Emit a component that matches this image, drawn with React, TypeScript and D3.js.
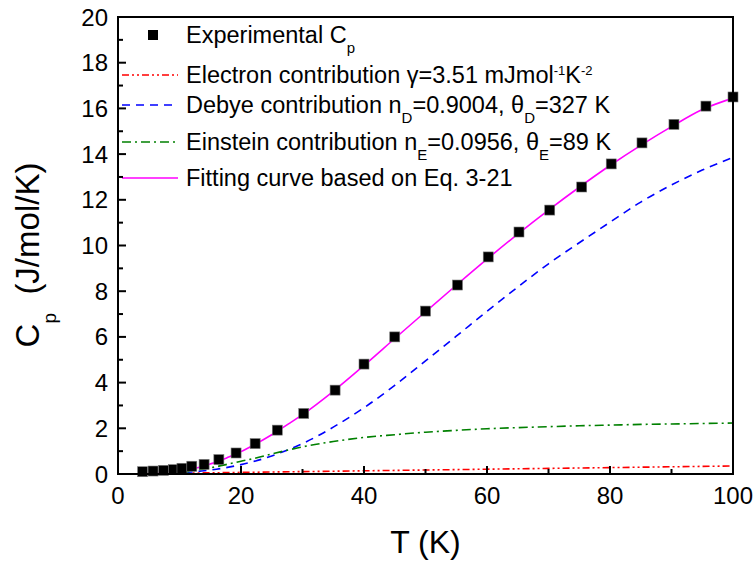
import React from "react";
import * as d3 from "d3";

const expT = [4, 5.7, 7.4, 9, 10.4, 12, 14, 16.4, 19.2, 22.3, 25.9, 30.2, 35.3, 40, 45, 50, 55.2, 60.2, 65.2, 70.2, 75.4, 80.2, 85.2, 90.4, 95.6, 100];
const expCp = [0.1, 0.13, 0.16, 0.19, 0.25, 0.34, 0.42, 0.63, 0.92, 1.33, 1.92, 2.65, 3.67, 4.81, 6.0, 7.13, 8.27, 9.5, 10.59, 11.55, 12.56, 13.57, 14.49, 15.3, 16.1, 16.5];

const curveT = [4, 6, 8, 10, 12, 14, 16, 18, 20, 22, 25, 28, 30, 35, 40, 45, 50, 55, 60, 65, 70, 75, 80, 85, 90, 95, 100];
const fitCp = [0.01, 0.03, 0.07, 0.13, 0.22, 0.36, 0.52, 0.74, 0.98, 1.26, 1.72, 2.24, 2.6, 3.62, 4.75, 5.93, 7.1, 8.26, 9.4, 10.5, 11.55, 12.55, 13.5, 14.38, 15.2, 15.95, 16.45];
const debyeCp = [0.0, 0.01, 0.02, 0.05, 0.09, 0.14, 0.21, 0.3, 0.41, 0.54, 0.79, 1.1, 1.33, 2.05, 2.9, 3.88, 4.95, 6.03, 7.12, 8.18, 9.2, 10.12, 11.02, 11.9, 12.65, 13.3, 13.85];
const einsteinCp = [0.0, 0.003, 0.02, 0.06, 0.13, 0.22, 0.32, 0.44, 0.56, 0.67, 0.88, 1.07, 1.19, 1.42, 1.6, 1.72, 1.83, 1.91, 1.98, 2.03, 2.07, 2.11, 2.14, 2.17, 2.19, 2.21, 2.23];
const elT = [4, 20, 40, 60, 80, 100];
const elCp = [0.014, 0.07, 0.14, 0.21, 0.28, 0.351];

const xTicks = [0, 20, 40, 60, 80, 100];
const xMinor = [10, 30, 50, 70, 90];
const yTicks = [0, 2, 4, 6, 8, 10, 12, 14, 16, 18, 20];
const yMinor = [1, 3, 5, 7, 9, 11, 13, 15, 17, 19];

const W = 753, H = 562;
const L = 118, R = 733, T = 17, B = 474;
const FONT = "'Liberation Sans', Arial, sans-serif";

export default function App() {
  const x = d3.scaleLinear().domain([0, 100]).range([L, R]);
  const y = d3.scaleLinear().domain([0, 20]).range([B, T]);
  const line = d3.line<[number, number]>().x(d => x(d[0])).y(d => y(d[1])).curve(d3.curveMonotoneX);
  const zip = (a: number[], b: number[]) => a.map((v, i) => [v, b[i]] as [number, number]);

  const curves = [
    { d: zip(elT, elCp), color: "#ff0000", dash: "7 3 2 3 2 3" },
    { d: zip(curveT, debyeCp), color: "#0000ff", dash: "8 6" },
    { d: zip(curveT, einsteinCp), color: "#008000", dash: "9 4 2 4" },
    { d: zip(curveT, fitCp), color: "#ff00ff", dash: "" },
  ];

  const legendX1 = 122, legendX2 = 178, textX = 186;
  const rows = [35, 75, 105, 142, 178];
  const fs = 23.5;
  const sub = { fontSize: 15, baselineShift: "-10px" } as any;
  const sup = { fontSize: 13, baselineShift: "8px" } as any;

  return (
    <svg width={W} height={H} style={{ position: "absolute", left: 0, top: 0, background: "#fff" }} fontFamily={FONT}>
      <rect x={0} y={0} width={W} height={H} fill="#fff" />
      {curves.map((c, i) => (
        <path key={i} d={line(c.d) || ""} fill="none" stroke={c.color} strokeWidth={1.6} strokeDasharray={c.dash || undefined} />
      ))}
      {expT.map((t, i) => (
        <rect key={i} x={x(t) - 5} y={y(expCp[i]) - 5} width={10} height={10} fill="#000" stroke="#777" strokeWidth={0.6} />
      ))}

      {/* legend */}
      <rect x={148} y={rows[0] - 5} width={10} height={10} fill="#000" />
      {curves.map((c, i) => (
        <line key={i} x1={legendX1} x2={legendX2} y1={rows[i + 1]} y2={rows[i + 1]} stroke={c.color} strokeWidth={1.6} strokeDasharray={c.dash || undefined} />
      ))}
      <g fontSize={fs} fill="#000">
        <text x={textX} y={43}>Experimental C<tspan style={sub}>p</tspan></text>
        <text x={textX} y={83}>Electron contribution γ=3.51 mJmol<tspan style={sup}>-1</tspan><tspan>K</tspan><tspan style={sup}>-2</tspan></text>
        <text x={textX} y={113}>Debye contribution n<tspan style={sub}>D</tspan><tspan>=0.9004, θ</tspan><tspan style={sub}>D</tspan><tspan>=327 K</tspan></text>
        <text x={textX} y={150}>Einstein contribution n<tspan style={sub}>E</tspan><tspan>=0.0956, θ</tspan><tspan style={sub}>E</tspan><tspan>=89 K</tspan></text>
        <text x={textX} y={186}>Fitting curve based on Eq. 3-21</text>
      </g>

      {/* axes */}
      <rect x={L} y={T} width={R - L} height={B - T} fill="none" stroke="#000" strokeWidth={2} />
      {xTicks.map(t => (
        <g key={t}>
          <line x1={x(t)} x2={x(t)} y1={B} y2={B - 8} stroke="#000" strokeWidth={2} />
          <text x={x(t)} y={B + 30} textAnchor="middle" fontSize={24}>{t}</text>
        </g>
      ))}
      {xMinor.map(t => (
        <line key={t} x1={x(t)} x2={x(t)} y1={B} y2={B - 5} stroke="#000" strokeWidth={2} />
      ))}
      {yTicks.map(t => (
        <g key={t}>
          <line x1={L} x2={L + 8} y1={y(t)} y2={y(t)} stroke="#000" strokeWidth={2} />
          <text x={L - 10} y={y(t) + 8.5} textAnchor="end" fontSize={24}>{t}</text>
        </g>
      ))}
      {yMinor.map(t => (
        <line key={t} x1={L} x2={L + 5} y1={y(t)} y2={y(t)} stroke="#000" strokeWidth={2} />
      ))}
      <text x={(L + R) / 2} y={553} textAnchor="middle" fontSize={32}>T (K)</text>
      <text transform={`translate(39, 255) rotate(-90)`} textAnchor="middle" fontSize={33} style={{ whiteSpace: "pre" }}>
        C<tspan style={{ fontSize: 19, baselineShift: "-17px" } as any}>p</tspan><tspan>{"  (J/mol/K)"}</tspan>
      </text>
    </svg>
  );
}
